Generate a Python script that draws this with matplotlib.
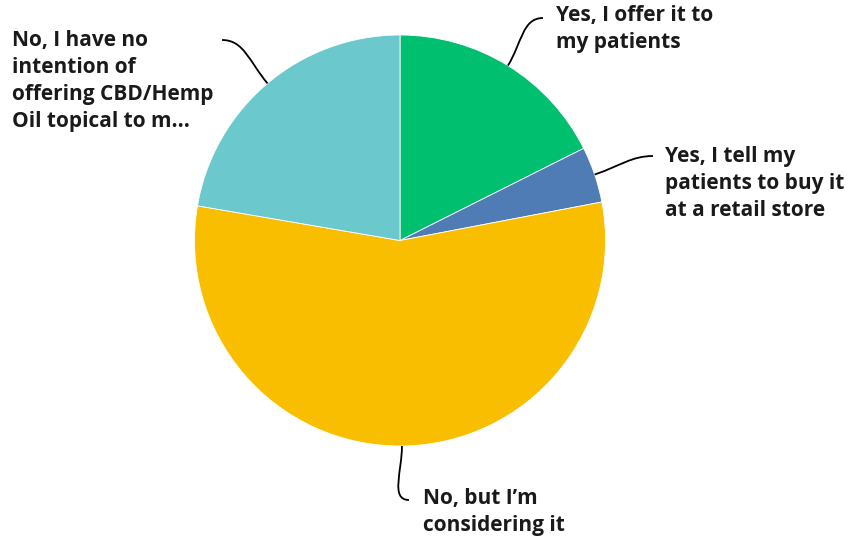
import numpy as np
import matplotlib.pyplot as plt
from matplotlib.path import Path
from matplotlib.patches import PathPatch

labels = [
    "Yes, I offer it to\nmy patients",
    "Yes, I tell my\npatients to buy it\nat a retail store",
    "No, but I\u2019m\nconsidering it",
    "No, I have no\nintention of\noffering CBD/Hemp\nOil topical to m...",
]
shares = [17.6, 4.4, 55.7, 22.3]
colors = ["#00BF6F", "#507CB6", "#F9BE00", "#6BC8CD"]

W, H = 848, 541
fig = plt.figure(figsize=(W / 100, H / 100), dpi=100)
ax = fig.add_axes([0, 0, 1, 1])

cx, cy, r = 400, 240.5, 205.5

# y axis runs downward, so counterclock=True with startangle=-90 goes clockwise from top
wedges, _ = ax.pie(shares, colors=colors, startangle=-90, counterclock=True,
                   center=(cx, cy), radius=r, frame=True,
                   wedgeprops=dict(edgecolor="white", linewidth=0.6))
ax.set_xlim(0, W)
ax.set_ylim(H, 0)
ax.set_aspect("equal")
ax.axis("off")

# label anchors and leader end points, in pixels
label_pos = [(556, 5), (665, 146), (423, 488), (12, 30)]
line_end = [(543, 18), (653, 156), (409, 500), (222, 40)]
side = [1, 1, 1, -1]

cum = np.cumsum([0] + shares)
for i, lab in enumerate(labels):
    mid = np.deg2rad((cum[i] + cum[i + 1]) / 2 * 3.6)
    dx, dy = np.sin(mid), -np.cos(mid)
    sx, sy = cx + r * dx, cy + r * dy
    ex, ey = line_end[i]
    dist = np.hypot(ex - sx, ey - sy)
    c1 = (sx + dx * dist * 0.45, sy + dy * dist * 0.45)
    c2 = (ex - side[i] * dist * 0.35, ey)
    path = Path([(sx, sy), c1, c2, (ex, ey)],
                [Path.MOVETO, Path.CURVE4, Path.CURVE4, Path.CURVE4])
    ax.add_patch(PathPatch(path, fill=False, edgecolor="black", linewidth=1.3))
    tx, ty = label_pos[i]
    ax.text(tx, ty, lab, ha="left", va="top", fontsize=15,
            fontfamily="Open Sans", fontweight="bold", linespacing=1.38,
            color="#1a1a1a")

fig.savefig("out.png", dpi=100)
